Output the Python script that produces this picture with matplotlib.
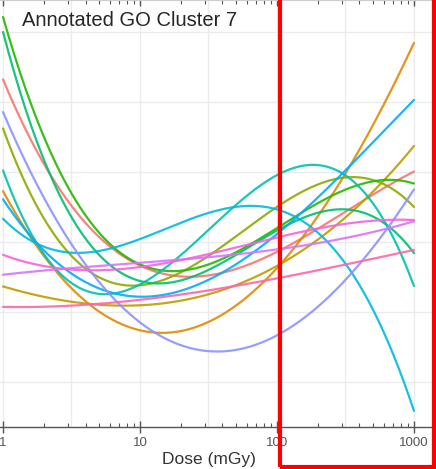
import numpy as np
import matplotlib
matplotlib.use("Agg")
import matplotlib.pyplot as plt
from matplotlib.patches import Rectangle

plt.rcParams['font.family'] = ['Liberation Sans', 'DejaVu Sans']

# fitted response per gene, sampled at half-decade doses
dose = [1, 3.16, 10, 31.6, 100, 316, 1000]
genes = ['g01', 'g02', 'g03', 'g04', 'g05', 'g06', 'g07',
         'g08', 'g09', 'g10', 'g11', 'g12', 'g13']
colors = ['#F8766D', '#E18A00', '#BE9C00', '#8CAB00', '#24B700', '#00BE70', '#00C1AB',
          '#00BBDA', '#00ACFC', '#8B93FF', '#D575FE', '#F962DD', '#FF65AC']
response = [
    [4.31, 2.53, 1.71, 1.43, 1.89, 2.46, 2.99],
    [2.70, 1.39, 0.74, 0.86, 1.49, 3.14, 4.79],
    [1.34, 1.20, 1.10, 1.20, 1.63, 2.43, 3.34],
    [3.50, 2.10, 1.31, 1.53, 2.58, 3.10, 2.41],
    [5.17, 2.81, 1.63, 1.60, 2.24, 2.79, 2.81],
    [4.93, 2.53, 1.39, 1.46, 2.20, 2.57, 1.79],
    [2.89, 1.71, 1.39, 1.85, 2.95, 3.25, 1.24],
    [2.34, 1.86, 1.96, 2.45, 2.60, 1.53, -0.36],
    [2.56, 1.67, 1.20, 1.31, 2.20, 3.06, 4.00],
    [3.79, 2.14, 0.77, 0.36, 0.66, 1.57, 2.70],
    [1.53, 1.63, 1.71, 1.77, 1.89, 2.07, 2.29],
    [1.79, 1.67, 1.63, 1.77, 2.07, 2.31, 2.29],
    [1.10, 1.03, 1.17, 1.39, 1.46, 1.63, 1.91],
]
title = 'Annotated GO Cluster 7'

W, H = 436, 469
fig = plt.figure(figsize=(W / 100, H / 100), dpi=100, facecolor='white')
ax = fig.add_axes([-17.5 / W, 42 / H, 452 / W, 427 / H])

# cubic fit in log-dose, like a smooth over the log axis
lx = np.log10(dose)
xs = np.linspace(0, 3, 300)
for g, c, vals in zip(genes, colors, response):
    coef = np.polyfit(lx, vals, 3)
    ax.plot(10 ** xs, np.polyval(coef, xs), color=c, lw=1.6, alpha=0.9,
            solid_capstyle='round')

ax.set_xscale('log')
ax.set_xlim(10 ** -0.15, 10 ** 3.15)
ax.set_ylim(-0.643, 5.457)

# background grid: decades and half-decades
for d in [1, 3.16, 10, 31.6, 100, 316, 1000]:
    ax.axvline(d, color='#ebebeb', lw=1, zorder=0)
for yv in range(6):
    ax.axhline(yv, color='#ebebeb', lw=1, zorder=0)

ax.set_xticks([1, 10, 100, 1000])
ax.set_xticklabels(['1', '10', '100', '1000'])
ax.set_yticks([])
ax.tick_params(axis='x', which='major', direction='inout', length=8, width=1,
               color='#555555', labelsize=9.5, labelcolor='#555555', pad=3, top=True)
ax.tick_params(axis='x', which='minor', direction='in', length=3, width=0.8,
               color='#555555', top=True)
ax.xaxis.set_minor_locator(matplotlib.ticker.LogLocator(base=10, subs=range(2, 10)))
ax.xaxis.set_minor_formatter(matplotlib.ticker.NullFormatter())

ax.spines['left'].set_visible(False)
ax.spines['top'].set_color('#cccccc')
ax.spines['right'].set_color('#aaaaaa')
ax.spines['right'].set_linewidth(1.2)
ax.spines['bottom'].set_color('#555555')
ax.spines['bottom'].set_linewidth(1)

ax.set_xlabel('Dose (mGy)', fontsize=12.5, color='#333333', labelpad=2)
ax.text(22 / W, 1 - 20 / H, title, transform=fig.transFigure, fontsize=14.5,
        color='#262626', va='center', ha='left')

# highlight box over the high-dose range
fig.patches.append(Rectangle((280 / W, 2 / H), 154 / W, 480 / H,
                             transform=fig.transFigure, fill=False,
                             edgecolor='#ff0000', lw=3, zorder=10))

fig.savefig('out.png', dpi=100, facecolor='white')
